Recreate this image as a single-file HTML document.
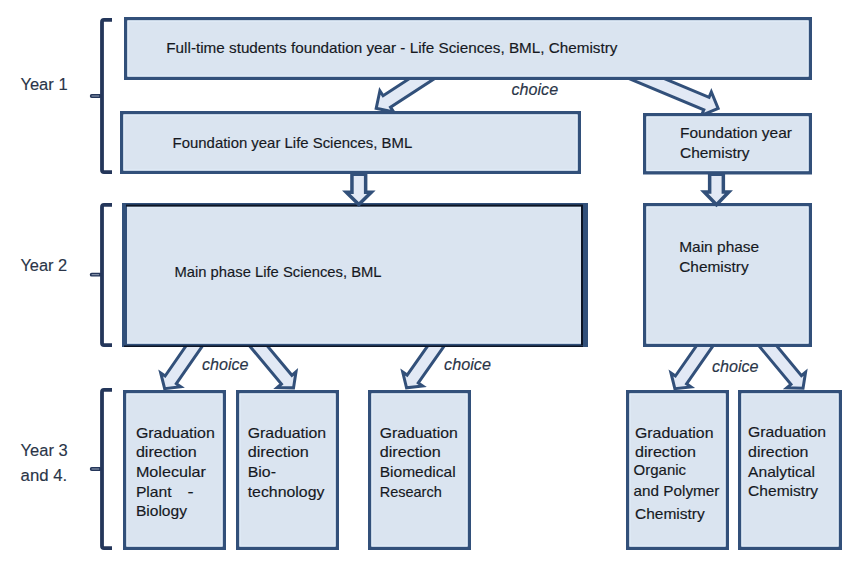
<!DOCTYPE html>
<html><head><meta charset="utf-8"><style>
html,body{margin:0;padding:0;background:#fff;}
svg{display:block;}
text{font-family:"Liberation Sans",sans-serif;}
</style></head><body>
<svg width="850" height="562" viewBox="0 0 850 562">
<rect width="850" height="562" fill="#ffffff"/>
<path d="M112,19.9 H104 Q102,19.9 102,21.9 V170.1 Q102,172.1 104,172.1 H112" fill="none" stroke="#24365a" stroke-width="3.8" stroke-linejoin="round"/>
<rect x="89.8" y="94.1" width="12" height="3.8" rx="1.9" fill="#24365a"/>
<line x1="91.6" y1="96" x2="99.2" y2="96" stroke="#b9c3d2" stroke-width="0.8"/>
<path d="M112,204.9 H104 Q102,204.9 102,206.9 V343.1 Q102,345.1 104,345.1 H112" fill="none" stroke="#24365a" stroke-width="3.8" stroke-linejoin="round"/>
<rect x="89.8" y="272.8" width="12" height="3.8" rx="1.9" fill="#24365a"/>
<line x1="91.6" y1="274.7" x2="99.2" y2="274.7" stroke="#b9c3d2" stroke-width="0.8"/>
<path d="M112,389.9 H104 Q102,389.9 102,391.9 V546.1 Q102,548.1 104,548.1 H112" fill="none" stroke="#24365a" stroke-width="3.8" stroke-linejoin="round"/>
<rect x="89.8" y="467.1" width="12" height="3.8" rx="1.9" fill="#24365a"/>
<line x1="91.6" y1="469" x2="99.2" y2="469" stroke="#b9c3d2" stroke-width="0.8"/>
<polygon points="453.36,50.11 383.11,95.74 379.91,90.81 376.18,108.34 393.72,112.07 390.52,107.14 460.77,61.52" fill="#e2e9f5" stroke="#32507a" stroke-width="3.0" stroke-linejoin="miter" stroke-miterlimit="10"/>
<polygon points="589.05,61.85 703.82,109.86 701.55,115.29 718.14,108.48 711.34,91.89 709.07,97.32 594.3,49.31" fill="#e2e9f5" stroke="#32507a" stroke-width="3.0" stroke-linejoin="miter" stroke-miterlimit="10"/>
<polygon points="205.73,317.36 165.14,375.99 160.69,372.91 164.64,388.66 180.77,386.81 176.32,383.73 216.91,325.1" fill="#e2e9f5" stroke="#32507a" stroke-width="3.0" stroke-linejoin="miter" stroke-miterlimit="10"/>
<polygon points="232.52,325.51 281.44,384.02 277.28,387.49 293.52,387.87 296.02,371.82 291.87,375.3 242.95,316.79" fill="#e2e9f5" stroke="#32507a" stroke-width="3.0" stroke-linejoin="miter" stroke-miterlimit="10"/>
<polygon points="447.75,317.32 407.14,375.1 402.71,371.99 406.55,387.77 422.69,386.03 418.27,382.92 458.88,325.14" fill="#e2e9f5" stroke="#32507a" stroke-width="3.0" stroke-linejoin="miter" stroke-miterlimit="10"/>
<polygon points="716.31,317.34 675.39,375.99 670.95,372.9 674.84,388.66 690.98,386.87 686.54,383.77 727.46,325.12" fill="#e2e9f5" stroke="#32507a" stroke-width="3.0" stroke-linejoin="miter" stroke-miterlimit="10"/>
<polygon points="742.08,325.5 790.96,384.37 786.79,387.83 803.03,388.27 805.58,372.23 801.42,375.69 752.54,316.81" fill="#e2e9f5" stroke="#32507a" stroke-width="3.0" stroke-linejoin="miter" stroke-miterlimit="10"/>
<rect x="125.7" y="18.7" width="684.6" height="59.6" fill="#dae4f0" stroke="#32507a" stroke-width="3.4"/>
<rect x="127.9" y="20.9" width="680.2" height="55.2" fill="none" stroke="#e4f0fc" stroke-width="1"/>
<rect x="121.7" y="112.7" width="457.6" height="59.6" fill="#dae4f0" stroke="#32507a" stroke-width="3.4"/>
<rect x="123.9" y="114.9" width="453.2" height="55.2" fill="none" stroke="#e4f0fc" stroke-width="1"/>
<rect x="644.7" y="114.7" width="165.6" height="58.1" fill="#dae4f0" stroke="#32507a" stroke-width="3.4"/>
<rect x="646.9" y="116.9" width="161.2" height="53.7" fill="none" stroke="#e4f0fc" stroke-width="1"/>
<rect x="123.7" y="204.7" width="462.6" height="140.6" fill="#dae4f0" stroke="#32507a" stroke-width="3.4"/>
<rect x="125.9" y="206.9" width="458.2" height="136.2" fill="none" stroke="#e4f0fc" stroke-width="1"/>
<rect x="122" y="204" width="5" height="142" fill="#32507a"/>
<rect x="126" y="204.6" width="457" height="2" fill="#0c1424"/>
<rect x="583" y="204" width="3" height="142" fill="#32507a"/>
<rect x="581" y="205" width="2" height="140" fill="#0c1424"/>
<rect x="124" y="345.5" width="459" height="1.5" fill="#0c1424"/>
<rect x="644.7" y="204.7" width="165.6" height="140.6" fill="#dae4f0" stroke="#32507a" stroke-width="3.4"/>
<rect x="646.9" y="206.9" width="161.2" height="136.2" fill="none" stroke="#e4f0fc" stroke-width="1"/>
<rect x="124.7" y="391.7" width="99.6" height="156.6" fill="#dae4f0" stroke="#32507a" stroke-width="3.4"/>
<rect x="126.9" y="393.9" width="95.2" height="152.2" fill="none" stroke="#e4f0fc" stroke-width="1"/>
<rect x="237.7" y="391.7" width="99.6" height="156.6" fill="#dae4f0" stroke="#32507a" stroke-width="3.4"/>
<rect x="239.9" y="393.9" width="95.2" height="152.2" fill="none" stroke="#e4f0fc" stroke-width="1"/>
<rect x="369.7" y="391.7" width="99.6" height="156.6" fill="#dae4f0" stroke="#32507a" stroke-width="3.4"/>
<rect x="371.9" y="393.9" width="95.2" height="152.2" fill="none" stroke="#e4f0fc" stroke-width="1"/>
<rect x="627.7" y="391.7" width="99.6" height="156.6" fill="#dae4f0" stroke="#32507a" stroke-width="3.4"/>
<rect x="629.9" y="393.9" width="95.2" height="152.2" fill="none" stroke="#e4f0fc" stroke-width="1"/>
<rect x="739.7" y="391.7" width="100.6" height="156.6" fill="#dae4f0" stroke="#32507a" stroke-width="3.4"/>
<rect x="741.9" y="393.9" width="96.2" height="152.2" fill="none" stroke="#e4f0fc" stroke-width="1"/>
<polygon points="351.95,174.35 351.95,192.15 346.28,192.15 358.8,204.45 371.32,192.15 365.65,192.15 365.65,174.35" fill="#e2e9f5" stroke="#32507a" stroke-width="3.5" stroke-linejoin="miter" stroke-miterlimit="10"/>
<polygon points="709.65,174.35 709.65,191.95 704.18,191.95 716.5,204.68 728.82,191.95 723.35,191.95 723.35,174.35" fill="#e2e9f5" stroke="#32507a" stroke-width="3.5" stroke-linejoin="miter" stroke-miterlimit="10"/>
<text x="166.3" y="53.4" font-size="14.3" fill="#16191f" stroke="#16191f" stroke-width="0.15" textLength="451.1" lengthAdjust="spacingAndGlyphs">Full-time students foundation year - Life Sciences, BML, Chemistry</text>
<text x="172.6" y="148.2" font-size="14.3" fill="#16191f" stroke="#16191f" stroke-width="0.15" textLength="239.6" lengthAdjust="spacingAndGlyphs">Foundation year Life Sciences, BML</text>
<text x="680" y="138" font-size="14.3" fill="#16191f" stroke="#16191f" stroke-width="0.15" textLength="112" lengthAdjust="spacingAndGlyphs">Foundation year</text>
<text x="680" y="157.8" font-size="14.3" fill="#16191f" stroke="#16191f" stroke-width="0.15" textLength="69.6" lengthAdjust="spacingAndGlyphs">Chemistry</text>
<text x="174.4" y="277.3" font-size="14.3" fill="#16191f" stroke="#16191f" stroke-width="0.15" textLength="207.2" lengthAdjust="spacingAndGlyphs">Main phase Life Sciences, BML</text>
<text x="679.2" y="251.8" font-size="14.3" fill="#16191f" stroke="#16191f" stroke-width="0.15" textLength="80" lengthAdjust="spacingAndGlyphs">Main phase</text>
<text x="679.2" y="271.8" font-size="14.3" fill="#16191f" stroke="#16191f" stroke-width="0.15" textLength="69.4" lengthAdjust="spacingAndGlyphs">Chemistry</text>
<text x="135.9" y="437.7" font-size="14.3" fill="#16191f" stroke="#16191f" stroke-width="0.15" textLength="78.9" lengthAdjust="spacingAndGlyphs">Graduation</text>
<text x="135.9" y="457.2" font-size="14.3" fill="#16191f" stroke="#16191f" stroke-width="0.15" textLength="60.8" lengthAdjust="spacingAndGlyphs">direction</text>
<text x="135.9" y="477" font-size="14.3" fill="#16191f" stroke="#16191f" stroke-width="0.15" textLength="70.1" lengthAdjust="spacingAndGlyphs">Molecular</text>
<text x="135.9" y="496.6" font-size="14.3" fill="#16191f" stroke="#16191f" stroke-width="0.15" textLength="35.8" lengthAdjust="spacingAndGlyphs">Plant</text>
<text x="187.5" y="496.6" font-size="14.3" fill="#16191f" stroke="#16191f" stroke-width="0.15" textLength="6.1" lengthAdjust="spacingAndGlyphs">-</text>
<text x="135.9" y="516.1" font-size="14.3" fill="#16191f" stroke="#16191f" stroke-width="0.15" textLength="51.1" lengthAdjust="spacingAndGlyphs">Biology</text>
<text x="247.7" y="437.7" font-size="14.3" fill="#16191f" stroke="#16191f" stroke-width="0.15" textLength="78.5" lengthAdjust="spacingAndGlyphs">Graduation</text>
<text x="247.7" y="457.3" font-size="14.3" fill="#16191f" stroke="#16191f" stroke-width="0.15" textLength="61.2" lengthAdjust="spacingAndGlyphs">direction</text>
<text x="247.7" y="477" font-size="14.3" fill="#16191f" stroke="#16191f" stroke-width="0.15" textLength="28.3" lengthAdjust="spacingAndGlyphs">Bio-</text>
<text x="247.7" y="497.2" font-size="14.3" fill="#16191f" stroke="#16191f" stroke-width="0.15" textLength="76.7" lengthAdjust="spacingAndGlyphs">technology</text>
<text x="379.7" y="437.7" font-size="14.3" fill="#16191f" stroke="#16191f" stroke-width="0.15" textLength="78.1" lengthAdjust="spacingAndGlyphs">Graduation</text>
<text x="379.7" y="457.3" font-size="14.3" fill="#16191f" stroke="#16191f" stroke-width="0.15" textLength="61.2" lengthAdjust="spacingAndGlyphs">direction</text>
<text x="379.7" y="477" font-size="14.3" fill="#16191f" stroke="#16191f" stroke-width="0.15" textLength="76" lengthAdjust="spacingAndGlyphs">Biomedical</text>
<text x="379.7" y="497.2" font-size="14.3" fill="#16191f" stroke="#16191f" stroke-width="0.15" textLength="62.1" lengthAdjust="spacingAndGlyphs">Research</text>
<text x="635" y="437.6" font-size="14.3" fill="#16191f" stroke="#16191f" stroke-width="0.15" textLength="78.5" lengthAdjust="spacingAndGlyphs">Graduation</text>
<text x="635" y="457.2" font-size="14.3" fill="#16191f" stroke="#16191f" stroke-width="0.15" textLength="60.9" lengthAdjust="spacingAndGlyphs">direction</text>
<text x="633.6" y="475.4" font-size="14.3" fill="#16191f" stroke="#16191f" stroke-width="0.15" textLength="52.5" lengthAdjust="spacingAndGlyphs">Organic</text>
<text x="633.6" y="495.7" font-size="14.3" fill="#16191f" stroke="#16191f" stroke-width="0.15" textLength="85.8" lengthAdjust="spacingAndGlyphs">and Polymer</text>
<text x="635" y="518.8" font-size="14.3" fill="#16191f" stroke="#16191f" stroke-width="0.15" textLength="69.7" lengthAdjust="spacingAndGlyphs">Chemistry</text>
<text x="748.1" y="437.3" font-size="14.3" fill="#16191f" stroke="#16191f" stroke-width="0.15" textLength="78" lengthAdjust="spacingAndGlyphs">Graduation</text>
<text x="748.1" y="456.9" font-size="14.3" fill="#16191f" stroke="#16191f" stroke-width="0.15" textLength="60.4" lengthAdjust="spacingAndGlyphs">direction</text>
<text x="748.1" y="476.9" font-size="14.3" fill="#16191f" stroke="#16191f" stroke-width="0.15" textLength="66.8" lengthAdjust="spacingAndGlyphs">Analytical</text>
<text x="748.1" y="496.1" font-size="14.3" fill="#16191f" stroke="#16191f" stroke-width="0.15" textLength="70" lengthAdjust="spacingAndGlyphs">Chemistry</text>
<text x="20.4" y="90.2" font-size="16.8" fill="#2a3548" stroke="#2a3548" stroke-width="0.15" textLength="47.2" lengthAdjust="spacingAndGlyphs">Year 1</text>
<text x="20.4" y="270.6" font-size="16.8" fill="#2a3548" stroke="#2a3548" stroke-width="0.15" textLength="46.8" lengthAdjust="spacingAndGlyphs">Year 2</text>
<text x="20.6" y="455.6" font-size="16.8" fill="#2a3548" stroke="#2a3548" stroke-width="0.15" textLength="47.1" lengthAdjust="spacingAndGlyphs">Year 3</text>
<text x="20.6" y="480.5" font-size="16.8" fill="#2a3548" stroke="#2a3548" stroke-width="0.15" textLength="46.6" lengthAdjust="spacingAndGlyphs">and 4.</text>
<text x="511.5" y="94.8" font-size="16.8" fill="#2a3548" stroke="#2a3548" stroke-width="0.15" font-style="italic" textLength="46.6" lengthAdjust="spacingAndGlyphs">choice</text>
<text x="201.9" y="370.2" font-size="16.8" fill="#2a3548" stroke="#2a3548" stroke-width="0.15" font-style="italic" textLength="46.6" lengthAdjust="spacingAndGlyphs">choice</text>
<text x="444.1" y="370.2" font-size="16.8" fill="#2a3548" stroke="#2a3548" stroke-width="0.15" font-style="italic" textLength="46.9" lengthAdjust="spacingAndGlyphs">choice</text>
<text x="711.9" y="371.8" font-size="16.8" fill="#2a3548" stroke="#2a3548" stroke-width="0.15" font-style="italic" textLength="46.6" lengthAdjust="spacingAndGlyphs">choice</text>
</svg>
</body></html>
